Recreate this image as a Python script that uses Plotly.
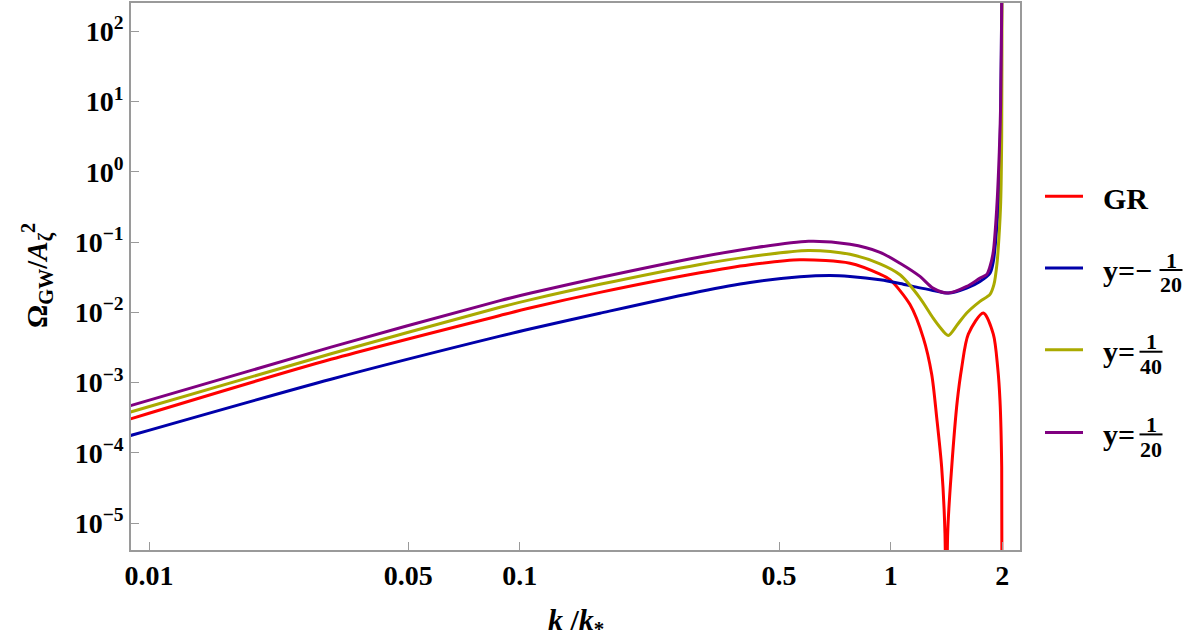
import math
import plotly.graph_objects as go

# ---------------- data ----------------
k_gr = [0.0089, 0.03095, 0.0884, 0.1071, 0.1644, 0.306, 0.4174, 0.5692, 0.7766, 0.9357,
        0.9957, 1.1274, 1.2243, 1.2899, 1.3305, 1.3722, 1.4007, 1.4142, 1.4247, 1.4606,
        1.5121, 1.5541, 1.6192, 1.7772, 1.8911, 1.9434, 1.9713, 1.9922, 2.0]
omega_gr = [3.04e-4, 2.145e-3, 9.0e-3, 1.16e-2, 1.92e-2, 3.65e-2, 4.75e-2, 5.58e-2, 4.99e-2, 3.49e-2,
            2.91e-2, 1.287e-2, 4.33e-3, 1.315e-3, 3.2e-4, 6.27e-5, 7.23e-6, 1e-9, 7.23e-6, 6.27e-5,
            5.51e-4, 1.631e-3, 4.89e-3, 9.79e-3, 4.89e-3, 1.631e-3, 5.51e-4, 6.27e-5, 1e-9]

k_neg20 = [0.0089, 0.03095, 0.0884, 0.1071, 0.1644, 0.306, 0.4174, 0.5692, 0.6862, 0.7766,
           0.9357, 1.0594, 1.1995, 1.3003, 1.43, 1.6032, 1.7412, 1.8527, 1.8911, 1.9314,
           1.9627, 1.9799, 1.9922, 1.997]
omega_neg20 = [1.76e-4, 1.117e-3, 4.58e-3, 5.82e-3, 9.7e-3, 1.98e-2, 2.66e-2, 3.2e-2, 3.34e-2, 3.24e-2,
               2.906e-2, 2.576e-2, 2.225e-2, 2.05e-2, 1.878e-2, 2.21e-2, 2.75e-2, 3.60e-2, 5.28e-2, 1.56e-1,
               7.15e-1, 7.0, 252.0, 1e4]

k_40 = [0.0089, 0.03095, 0.0884, 0.1071, 0.1644, 0.306, 0.4174, 0.6, 0.7766,
        0.9357, 1.0594, 1.1995, 1.3003, 1.3577, 1.43, 1.5139, 1.6032, 1.7412, 1.8527,
        1.8988, 1.9348, 1.9591, 1.9799, 1.9922, 1.996, 1.999]
omega_40 = [3.81e-4, 2.57e-3, 1.178e-2, 1.515e-2, 2.5e-2, 4.8e-2, 6.2e-2, 7.6e-2, 6.69e-2,
            4.89e-2, 3.42e-2, 1.595e-2, 8.32e-3, 6.14e-3, 4.69e-3, 6.71e-3, 9.79e-3, 1.433e-2, 1.80e-2,
            2.493e-2, 4.94e-2, 0.1191, 0.3726, 3.31, 252.0, 1e4]

k_20 = [0.0089, 0.03095, 0.0884, 0.1071, 0.1644, 0.306, 0.4174, 0.6, 0.7766,
        0.9357, 1.0594, 1.1995, 1.3003, 1.43, 1.6032, 1.7412, 1.8152, 1.8527, 1.8911,
        1.9314, 1.9627, 1.9799, 1.9922, 1.997]
omega_20 = [4.68e-4, 3.20e-3, 1.466e-2, 1.878e-2, 3.12e-2, 6.12e-2, 8.1e-2, 0.1025, 0.0927,
            0.0714, 0.0499, 0.0324, 0.0221, 0.01878, 0.02336, 0.0306, 0.0345, 0.0448, 0.0731,
            0.2966, 1.90, 9.69, 252.0, 1e4]

x_tick_vals = [0.01, 0.05, 0.1, 0.5, 1, 2]
x_tick_text = ["0.01", "0.05", "0.1", "0.5", "1", "2"]
y_tick_exps = [-5, -4, -3, -2, -1, 0, 1, 2]

series = [
    ("GR", k_gr, omega_gr, "#ff0000"),
    ("y=-1/20", k_neg20, omega_neg20, "#0000aa"),
    ("y=1/40", k_40, omega_40, "#aaaa00"),
    ("y=1/20", k_20, omega_20, "#800080"),
]

# ---------------- figure ----------------
FONT = "Liberation Serif"
L, R, T, B = 131, 1020, 1, 550
W, H = R - L, B - T

def pxx(x):
    return (x - L) / W

def pxy(y):
    return (B - y) / H

fig = go.Figure()
for name, kx, oy, col in series:
    fig.add_trace(go.Scatter(x=kx, y=oy, mode="lines", name=name,
                             line=dict(color=col, width=3, shape="spline", smoothing=0.8),
                             showlegend=False))

frame = "#9a9a9a"
fig.update_xaxes(type="log", range=[math.log10(0.00894), math.log10(2.232)],
                 showgrid=False, zeroline=False, showline=True, mirror=True,
                 linecolor=frame, linewidth=1.5, ticks="inside", ticklen=8,
                 tickcolor=frame, tickwidth=1,
                 tickvals=x_tick_vals, ticktext=["<b>%s</b>" % t for t in x_tick_text],
                 tickfont=dict(family=FONT, size=28, color="black"))
fig.update_yaxes(type="log", range=[-5.382, 2.401],
                 showgrid=False, zeroline=False, showline=True, mirror=True,
                 linecolor=frame, linewidth=1.5, ticks="inside", ticklen=8,
                 tickcolor=frame, tickwidth=1,
                 tickvals=[10.0 ** e for e in y_tick_exps],
                 ticktext=["<b>10<sup>%s</sup></b>" % (str(e).replace("-", "\u2212")) for e in y_tick_exps],
                 tickfont=dict(family=FONT, size=28, color="black"))

ann = []
# axis titles
ann.append(dict(text="<b><i>k</i> /<i>k</i><sub>*</sub></b>", xref="paper", yref="paper",
                x=pxx(576), y=pxy(622), xanchor="center", yanchor="middle", showarrow=False,
                font=dict(family=FONT, size=30, color="black")))
ann.append(dict(text="<b>\u03a9<sub>GW</sub>/<i>A</i><sub>\u03b6</sub><sup>2</sup></b>", xref="paper", yref="paper",
                x=pxx(37), y=pxy(275), xanchor="center", yanchor="middle", textangle=-90, showarrow=False,
                font=dict(family=FONT, size=29, color="black")))

# custom legend
shapes = []
leg_rows = [
    (195, "#ff0000", "GR", None, None),
    (267, "#0000aa", "y=\u2212", ("1", "20"), 1171),
    (349, "#aaaa00", "y=", ("1", "40"), 1151),
    (432, "#800080", "y=", ("1", "20"), 1151),
]
for yline, col, txt, frac, fx in leg_rows:
    shapes.append(dict(type="line", xref="paper", yref="paper", x0=pxx(1045), x1=pxx(1083),
                       y0=pxy(yline), y1=pxy(yline), line=dict(color=col, width=3)))
    ann.append(dict(text="<b>%s</b>" % txt, xref="paper", yref="paper", x=pxx(1101), y=pxy(yline + 2),
                    xanchor="left", yanchor="middle", showarrow=False,
                    font=dict(family=FONT, size=30, color="black")))
    if frac:
        num, den = frac
        ann.append(dict(text="<b>%s</b>" % num, xref="paper", yref="paper", x=pxx(fx), y=pxy(yline - 8),
                        xanchor="center", yanchor="middle", showarrow=False,
                        font=dict(family=FONT, size=22, color="black")))
        ann.append(dict(text="<b>%s</b>" % den, xref="paper", yref="paper", x=pxx(fx), y=pxy(yline + 17),
                        xanchor="center", yanchor="middle", showarrow=False,
                        font=dict(family=FONT, size=22, color="black")))
        shapes.append(dict(type="line", xref="paper", yref="paper", x0=pxx(fx - 11.5), x1=pxx(fx + 11.5),
                           y0=pxy(yline + 2), y1=pxy(yline + 2), line=dict(color="black", width=2)))

fig.update_layout(width=1200, height=640, margin=dict(l=L, r=1200 - R, t=T, b=640 - B),
                  plot_bgcolor="white", paper_bgcolor="white", showlegend=False,
                  annotations=ann, shapes=shapes,
                  font=dict(family=FONT, color="black"))

fig.write_html("out.html")
